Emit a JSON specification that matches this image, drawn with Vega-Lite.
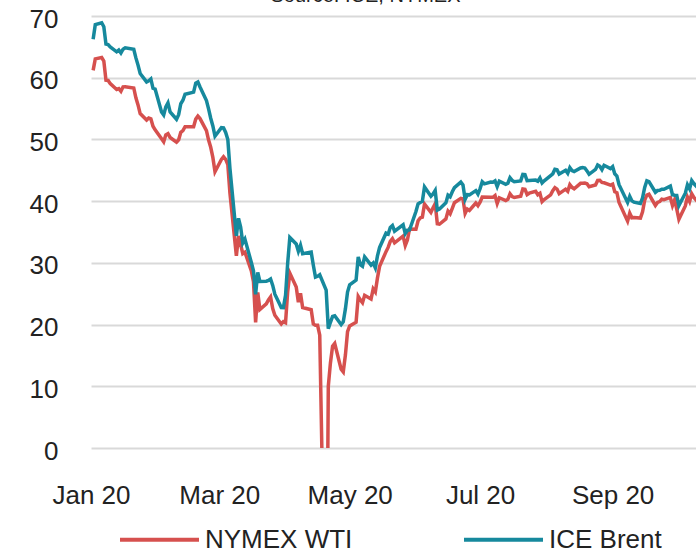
{
  "$schema": "https://vega.github.io/schema/vega-lite/v6.json",
  "width": 605,
  "height": 432,
  "autosize": {"type": "none"},
  "padding": {"left": 91, "top": 16, "right": 0, "bottom": 106},
  "background": "white",
  "title": {
    "text": "Source: ICE, NYMEX",
    "anchor": "middle",
    "frame": "group",
    "baseline": "alphabetic",
    "offset": -16,
    "dx": -28,
    "font": "Liberation Sans",
    "fontSize": 20,
    "fontWeight": "normal",
    "color": "#222222"
  },
  "data": {
    "values": [
      {"d": "2020-01-02", "wti": 61.18, "brent": 66.25},
      {"d": "2020-01-03", "wti": 63.05, "brent": 68.60},
      {"d": "2020-01-06", "wti": 63.27, "brent": 68.91},
      {"d": "2020-01-07", "wti": 62.70, "brent": 68.27},
      {"d": "2020-01-08", "wti": 59.61, "brent": 65.44},
      {"d": "2020-01-09", "wti": 59.56, "brent": 65.37},
      {"d": "2020-01-10", "wti": 59.04, "brent": 64.98},
      {"d": "2020-01-13", "wti": 58.08, "brent": 64.20},
      {"d": "2020-01-14", "wti": 58.23, "brent": 64.49},
      {"d": "2020-01-15", "wti": 57.81, "brent": 64.00},
      {"d": "2020-01-16", "wti": 58.52, "brent": 64.62},
      {"d": "2020-01-17", "wti": 58.54, "brent": 64.85},
      {"d": "2020-01-21", "wti": 58.34, "brent": 64.59},
      {"d": "2020-01-22", "wti": 56.74, "brent": 63.21},
      {"d": "2020-01-23", "wti": 55.59, "brent": 62.04},
      {"d": "2020-01-24", "wti": 54.19, "brent": 60.69},
      {"d": "2020-01-27", "wti": 53.14, "brent": 59.32},
      {"d": "2020-01-28", "wti": 53.48, "brent": 59.51},
      {"d": "2020-01-29", "wti": 53.33, "brent": 59.81},
      {"d": "2020-01-30", "wti": 52.14, "brent": 58.29},
      {"d": "2020-01-31", "wti": 51.56, "brent": 58.16},
      {"d": "2020-02-03", "wti": 50.11, "brent": 54.45},
      {"d": "2020-02-04", "wti": 49.61, "brent": 53.96},
      {"d": "2020-02-05", "wti": 50.75, "brent": 55.28},
      {"d": "2020-02-06", "wti": 50.95, "brent": 55.93},
      {"d": "2020-02-07", "wti": 50.32, "brent": 54.47},
      {"d": "2020-02-10", "wti": 49.57, "brent": 53.27},
      {"d": "2020-02-11", "wti": 49.94, "brent": 54.01},
      {"d": "2020-02-12", "wti": 51.17, "brent": 55.79},
      {"d": "2020-02-13", "wti": 51.42, "brent": 56.34},
      {"d": "2020-02-14", "wti": 52.05, "brent": 57.32},
      {"d": "2020-02-18", "wti": 52.05, "brent": 57.67},
      {"d": "2020-02-19", "wti": 53.29, "brent": 59.12},
      {"d": "2020-02-20", "wti": 53.78, "brent": 59.31},
      {"d": "2020-02-21", "wti": 53.38, "brent": 58.50},
      {"d": "2020-02-24", "wti": 51.43, "brent": 56.30},
      {"d": "2020-02-25", "wti": 49.90, "brent": 54.95},
      {"d": "2020-02-26", "wti": 48.73, "brent": 53.43},
      {"d": "2020-02-27", "wti": 47.09, "brent": 52.18},
      {"d": "2020-02-28", "wti": 44.76, "brent": 50.52},
      {"d": "2020-03-02", "wti": 46.75, "brent": 51.90},
      {"d": "2020-03-03", "wti": 47.18, "brent": 51.86},
      {"d": "2020-03-04", "wti": 46.78, "brent": 51.13},
      {"d": "2020-03-05", "wti": 45.90, "brent": 49.99},
      {"d": "2020-03-06", "wti": 41.28, "brent": 45.27},
      {"d": "2020-03-09", "wti": 31.13, "brent": 34.36},
      {"d": "2020-03-10", "wti": 34.36, "brent": 37.22},
      {"d": "2020-03-11", "wti": 32.98, "brent": 35.79},
      {"d": "2020-03-12", "wti": 31.50, "brent": 33.22},
      {"d": "2020-03-13", "wti": 31.73, "brent": 33.85},
      {"d": "2020-03-16", "wti": 28.70, "brent": 30.05},
      {"d": "2020-03-17", "wti": 26.95, "brent": 28.73},
      {"d": "2020-03-18", "wti": 20.37, "brent": 24.88},
      {"d": "2020-03-19", "wti": 25.22, "brent": 28.47},
      {"d": "2020-03-20", "wti": 22.43, "brent": 26.98},
      {"d": "2020-03-23", "wti": 23.36, "brent": 27.03},
      {"d": "2020-03-24", "wti": 24.01, "brent": 27.15},
      {"d": "2020-03-25", "wti": 24.49, "brent": 27.39},
      {"d": "2020-03-26", "wti": 22.60, "brent": 26.34},
      {"d": "2020-03-27", "wti": 21.51, "brent": 24.93},
      {"d": "2020-03-30", "wti": 20.09, "brent": 22.76},
      {"d": "2020-03-31", "wti": 20.48, "brent": 22.74},
      {"d": "2020-04-01", "wti": 20.31, "brent": 24.74},
      {"d": "2020-04-02", "wti": 25.32, "brent": 29.94},
      {"d": "2020-04-03", "wti": 28.34, "brent": 34.11},
      {"d": "2020-04-06", "wti": 26.08, "brent": 33.05},
      {"d": "2020-04-07", "wti": 23.63, "brent": 31.87},
      {"d": "2020-04-08", "wti": 25.09, "brent": 32.84},
      {"d": "2020-04-09", "wti": 22.76, "brent": 31.48},
      {"d": "2020-04-13", "wti": 22.41, "brent": 31.74},
      {"d": "2020-04-14", "wti": 20.11, "brent": 29.60},
      {"d": "2020-04-15", "wti": 19.87, "brent": 27.69},
      {"d": "2020-04-16", "wti": 19.87, "brent": 27.82},
      {"d": "2020-04-17", "wti": 18.27, "brent": 28.08},
      {"d": "2020-04-20", "wti": -37.63, "brent": 25.57},
      {"d": "2020-04-21", "wti": 10.01, "brent": 19.33},
      {"d": "2020-04-22", "wti": 13.78, "brent": 20.37},
      {"d": "2020-04-23", "wti": 16.50, "brent": 21.33},
      {"d": "2020-04-24", "wti": 16.94, "brent": 21.44},
      {"d": "2020-04-27", "wti": 12.78, "brent": 19.99},
      {"d": "2020-04-28", "wti": 12.34, "brent": 20.46},
      {"d": "2020-04-29", "wti": 15.06, "brent": 22.54},
      {"d": "2020-04-30", "wti": 18.84, "brent": 25.27},
      {"d": "2020-05-01", "wti": 19.78, "brent": 26.44},
      {"d": "2020-05-04", "wti": 20.39, "brent": 27.20},
      {"d": "2020-05-05", "wti": 24.56, "brent": 30.97},
      {"d": "2020-05-06", "wti": 23.99, "brent": 29.72},
      {"d": "2020-05-07", "wti": 23.55, "brent": 29.46},
      {"d": "2020-05-08", "wti": 24.74, "brent": 30.97},
      {"d": "2020-05-11", "wti": 24.14, "brent": 29.63},
      {"d": "2020-05-12", "wti": 25.78, "brent": 29.98},
      {"d": "2020-05-13", "wti": 25.29, "brent": 29.19},
      {"d": "2020-05-14", "wti": 27.56, "brent": 31.13},
      {"d": "2020-05-15", "wti": 29.43, "brent": 32.50},
      {"d": "2020-05-18", "wti": 31.82, "brent": 34.81},
      {"d": "2020-05-19", "wti": 32.50, "brent": 34.65},
      {"d": "2020-05-20", "wti": 33.49, "brent": 35.75},
      {"d": "2020-05-21", "wti": 33.92, "brent": 36.06},
      {"d": "2020-05-22", "wti": 33.25, "brent": 35.13},
      {"d": "2020-05-26", "wti": 34.35, "brent": 36.17},
      {"d": "2020-05-27", "wti": 32.81, "brent": 34.74},
      {"d": "2020-05-28", "wti": 33.71, "brent": 35.29},
      {"d": "2020-05-29", "wti": 35.49, "brent": 35.33},
      {"d": "2020-06-01", "wti": 35.44, "brent": 38.32},
      {"d": "2020-06-02", "wti": 36.81, "brent": 39.57},
      {"d": "2020-06-03", "wti": 37.29, "brent": 39.79},
      {"d": "2020-06-04", "wti": 37.41, "brent": 39.99},
      {"d": "2020-06-05", "wti": 39.55, "brent": 42.30},
      {"d": "2020-06-08", "wti": 38.19, "brent": 40.80},
      {"d": "2020-06-09", "wti": 38.94, "brent": 41.18},
      {"d": "2020-06-10", "wti": 39.60, "brent": 41.73},
      {"d": "2020-06-11", "wti": 36.34, "brent": 38.55},
      {"d": "2020-06-12", "wti": 36.26, "brent": 38.73},
      {"d": "2020-06-15", "wti": 37.12, "brent": 39.72},
      {"d": "2020-06-16", "wti": 38.38, "brent": 40.96},
      {"d": "2020-06-17", "wti": 37.96, "brent": 40.71},
      {"d": "2020-06-18", "wti": 38.84, "brent": 41.51},
      {"d": "2020-06-19", "wti": 39.75, "brent": 42.19},
      {"d": "2020-06-22", "wti": 40.46, "brent": 43.08},
      {"d": "2020-06-23", "wti": 40.37, "brent": 42.63},
      {"d": "2020-06-24", "wti": 38.01, "brent": 40.31},
      {"d": "2020-06-25", "wti": 38.72, "brent": 41.05},
      {"d": "2020-06-26", "wti": 38.49, "brent": 41.02},
      {"d": "2020-06-29", "wti": 39.70, "brent": 41.71},
      {"d": "2020-06-30", "wti": 39.27, "brent": 41.15},
      {"d": "2020-07-01", "wti": 39.82, "brent": 42.03},
      {"d": "2020-07-02", "wti": 40.65, "brent": 43.14},
      {"d": "2020-07-03", "wti": null, "brent": 42.80},
      {"d": "2020-07-06", "wti": 40.63, "brent": 43.10},
      {"d": "2020-07-07", "wti": 40.62, "brent": 43.08},
      {"d": "2020-07-08", "wti": 40.90, "brent": 43.29},
      {"d": "2020-07-09", "wti": 39.62, "brent": 42.35},
      {"d": "2020-07-10", "wti": 40.55, "brent": 43.24},
      {"d": "2020-07-13", "wti": 40.10, "brent": 42.72},
      {"d": "2020-07-14", "wti": 40.29, "brent": 42.90},
      {"d": "2020-07-15", "wti": 41.20, "brent": 43.79},
      {"d": "2020-07-16", "wti": 40.75, "brent": 43.37},
      {"d": "2020-07-17", "wti": 40.59, "brent": 43.14},
      {"d": "2020-07-20", "wti": 40.81, "brent": 43.28},
      {"d": "2020-07-21", "wti": 41.96, "brent": 44.32},
      {"d": "2020-07-22", "wti": 41.90, "brent": 44.29},
      {"d": "2020-07-23", "wti": 41.07, "brent": 43.31},
      {"d": "2020-07-24", "wti": 41.29, "brent": 43.34},
      {"d": "2020-07-27", "wti": 41.60, "brent": 43.41},
      {"d": "2020-07-28", "wti": 41.04, "brent": 43.22},
      {"d": "2020-07-29", "wti": 41.27, "brent": 43.75},
      {"d": "2020-07-30", "wti": 39.92, "brent": 42.94},
      {"d": "2020-07-31", "wti": 40.27, "brent": 43.30},
      {"d": "2020-08-03", "wti": 41.01, "brent": 44.15},
      {"d": "2020-08-04", "wti": 41.70, "brent": 44.43},
      {"d": "2020-08-05", "wti": 42.19, "brent": 45.17},
      {"d": "2020-08-06", "wti": 41.95, "brent": 45.09},
      {"d": "2020-08-07", "wti": 41.22, "brent": 44.40},
      {"d": "2020-08-10", "wti": 41.94, "brent": 44.99},
      {"d": "2020-08-11", "wti": 41.61, "brent": 44.50},
      {"d": "2020-08-12", "wti": 42.67, "brent": 45.43},
      {"d": "2020-08-13", "wti": 42.24, "brent": 44.96},
      {"d": "2020-08-14", "wti": 42.01, "brent": 44.80},
      {"d": "2020-08-17", "wti": 42.89, "brent": 45.37},
      {"d": "2020-08-18", "wti": 42.89, "brent": 45.46},
      {"d": "2020-08-19", "wti": 42.93, "brent": 45.37},
      {"d": "2020-08-20", "wti": 42.82, "brent": 44.90},
      {"d": "2020-08-21", "wti": 42.34, "brent": 44.35},
      {"d": "2020-08-24", "wti": 42.62, "brent": 45.13},
      {"d": "2020-08-25", "wti": 43.35, "brent": 45.86},
      {"d": "2020-08-26", "wti": 43.39, "brent": 45.64},
      {"d": "2020-08-27", "wti": 43.04, "brent": 45.09},
      {"d": "2020-08-28", "wti": 42.97, "brent": 45.81},
      {"d": "2020-08-31", "wti": 42.61, "brent": 45.28},
      {"d": "2020-09-01", "wti": 42.76, "brent": 45.58},
      {"d": "2020-09-02", "wti": 41.51, "brent": 44.43},
      {"d": "2020-09-03", "wti": 41.37, "brent": 44.07},
      {"d": "2020-09-04", "wti": 39.77, "brent": 42.66},
      {"d": "2020-09-08", "wti": 36.76, "brent": 39.78},
      {"d": "2020-09-09", "wti": 38.05, "brent": 40.79},
      {"d": "2020-09-10", "wti": 37.30, "brent": 40.06},
      {"d": "2020-09-11", "wti": 37.33, "brent": 39.83},
      {"d": "2020-09-14", "wti": 37.26, "brent": 39.61},
      {"d": "2020-09-15", "wti": 38.28, "brent": 40.53},
      {"d": "2020-09-16", "wti": 40.16, "brent": 42.22},
      {"d": "2020-09-17", "wti": 40.97, "brent": 43.30},
      {"d": "2020-09-18", "wti": 41.11, "brent": 43.15},
      {"d": "2020-09-21", "wti": 39.31, "brent": 41.44},
      {"d": "2020-09-22", "wti": 39.80, "brent": 41.72},
      {"d": "2020-09-23", "wti": 39.93, "brent": 41.77},
      {"d": "2020-09-24", "wti": 40.31, "brent": 41.94},
      {"d": "2020-09-25", "wti": 40.25, "brent": 41.92},
      {"d": "2020-09-28", "wti": 40.60, "brent": 42.43},
      {"d": "2020-09-29", "wti": 39.29, "brent": 41.03},
      {"d": "2020-09-30", "wti": 40.22, "brent": 40.95},
      {"d": "2020-10-01", "wti": 38.72, "brent": 40.93},
      {"d": "2020-10-02", "wti": 37.05, "brent": 39.27},
      {"d": "2020-10-05", "wti": 39.22, "brent": 41.29},
      {"d": "2020-10-06", "wti": 40.67, "brent": 42.65},
      {"d": "2020-10-07", "wti": 39.95, "brent": 41.99},
      {"d": "2020-10-08", "wti": 41.19, "brent": 43.34},
      {"d": "2020-10-09", "wti": 40.60, "brent": 42.85},
      {"d": "2020-10-12", "wti": 39.43, "brent": 41.72}
    ]
  },
  "transform": [
    {"fold": ["wti", "brent"], "as": ["series", "price"]}
  ],
  "mark": {"type": "line", "strokeWidth": 3.5, "clip": true, "invalid": "filter", "interpolate": "linear"},
  "encoding": {
    "x": {
      "field": "d",
      "type": "temporal",
      "title": null,
      "scale": {
        "type": "utc",
        "domain": [
          {"year": 2020, "month": 1, "date": 1, "utc": true},
          {"year": 2020, "month": 10, "date": 10, "utc": true}
        ]
      },
      "axis": {
        "values": [
          {"year": 2020, "month": 1, "date": 1, "utc": true},
          {"year": 2020, "month": 3, "date": 1, "utc": true},
          {"year": 2020, "month": 5, "date": 1, "utc": true},
          {"year": 2020, "month": 7, "date": 1, "utc": true},
          {"year": 2020, "month": 9, "date": 1, "utc": true}
        ],
        "format": "%b %y",
        "grid": false,
        "domain": false,
        "ticks": false,
        "tickSize": 0,
        "labelPadding": 55,
        "labelBaseline": "alphabetic",
        "labelAlign": "center",
        "labelFlush": false,
        "labelBound": false,
        "labelOverlap": false
      }
    },
    "y": {
      "field": "price",
      "type": "quantitative",
      "title": null,
      "scale": {"domain": [0, 70], "nice": false, "zero": false},
      "axis": {
        "values": [0, 10, 20, 30, 40, 50, 60, 70],
        "grid": true,
        "gridColor": "#d9d9d9",
        "gridWidth": 2,
        "domain": false,
        "ticks": false,
        "tickSize": 0,
        "labelPadding": 33,
        "labelOffset": 3,
        "labelBaseline": "middle",
        "labelFlush": false,
        "labelBound": false
      }
    },
    "color": {
      "field": "series",
      "type": "nominal",
      "scale": {"domain": ["wti", "brent"], "range": ["#d6504e", "#16899d"]},
      "legend": {
        "title": null,
        "orient": "none",
        "direction": "horizontal",
        "legendX": 27,
        "legendY": 482,
        "padding": 0,
        "symbolType": "stroke",
        "symbolSize": 6241,
        "symbolStrokeWidth": 4,
        "labelOffset": 4,
        "columnPadding": 103,
        "labelExpr": "datum.label == 'wti' ? 'NYMEX WTI' : 'ICE Brent'"
      }
    }
  },
  "config": {
    "view": {"stroke": null},
    "font": "Liberation Sans",
    "axis": {
      "labelFont": "Liberation Sans",
      "labelFontSize": 26,
      "labelColor": "#222222"
    },
    "legend": {
      "labelFont": "Liberation Sans",
      "labelFontSize": 26,
      "labelColor": "#222222"
    }
  }
}
